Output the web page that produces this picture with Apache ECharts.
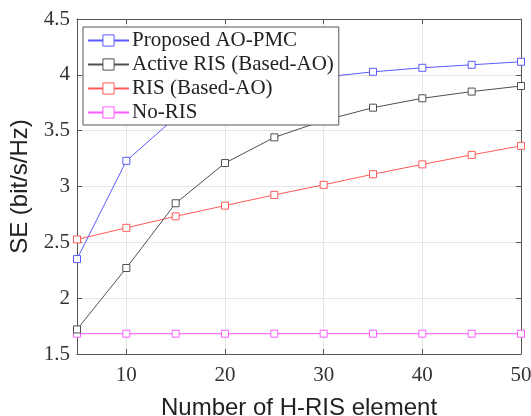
<!DOCTYPE html>
<html><head><meta charset="utf-8">
<script src="https://cdn.jsdelivr.net/npm/echarts@6/dist/echarts.min.js"></script>
<style>html,body{margin:0;padding:0;background:#fff}#c{width:531px;height:416px}</style>
</head><body><div id="c"></div>
<script>
const xValues = [5, 10, 15, 20, 25, 30, 35, 40, 45, 50];
const xTicks = [10, 20, 30, 40, 50];
const seriesNames = ['Proposed AO-PMC', 'Active RIS (Based-AO)', 'RIS (Based-AO)', 'No-RIS'];
const proposed = [2.35, 3.23, 3.62, 3.78, 3.90, 3.98, 4.027, 4.063, 4.09, 4.117];
const activeRIS = [1.72, 2.27, 2.85, 3.21, 3.44, 3.59, 3.706, 3.79, 3.85, 3.90];
const ris = [2.526, 2.63, 2.733, 2.829, 2.925, 3.015, 3.11, 3.198, 3.283, 3.364];
const noRIS = [1.682, 1.682, 1.682, 1.682, 1.682, 1.682, 1.682, 1.682, 1.682, 1.682];
const colors = ['#5a5aff', '#505050', '#ff5a5a', '#ff5aff'];
const allData = [proposed, activeRIS, ris, noRIS];

const chart = echarts.init(document.getElementById('c'), null, {renderer: 'canvas'});
const serif = 'Liberation Serif';
const mk = (i) => ({
  name: seriesNames[i], type: 'line',
  data: xValues.map((x, k) => [x, allData[i][k]]),
  symbol: 'rect', symbolSize: 7, showSymbol: true,
  itemStyle: {color: '#fff', borderColor: colors[i], borderWidth: 1},
  lineStyle: {color: colors[i], width: 1},
  emphasis: {disabled: true}, animation: false, z: 3 + (3 - i)
});
chart.setOption({
  animation: false,
  grid: {left: 77, right: 10, top: 19, bottom: 62, containLabel: false, outerBoundsMode: 'none'},
  legend: {
    orient: 'vertical', left: 83, top: 27, width: 255, z: 20,
    padding: [3, 5, 2, 4], itemGap: 3, itemWidth: 41, itemHeight: 14,
    backgroundColor: '#fff', borderColor: '#555', borderWidth: 1,
    textStyle: {fontFamily: serif, fontSize: 21, color: '#222', padding: [0, 0, 0, -2]},
    data: seriesNames.map((n, i) => ({name: n, itemStyle: {color: '#fff', borderColor: colors[i], borderWidth: 1}}))
  },
  xAxis: [{
    type: 'value', min: 5, max: 50,
    name: 'Number of H-RIS element', nameLocation: 'middle', nameGap: 42,
    nameTextStyle: {fontFamily: 'Liberation Sans', fontSize: 24, color: '#222'},
    axisLine: {show: true, lineStyle: {color: '#555'}},
    axisTick: {show: true, inside: true, length: 5, customValues: xTicks, lineStyle: {color: '#555'}},
    axisLabel: {customValues: xTicks, fontFamily: serif, fontSize: 21, color: '#333', margin: 11},
    splitLine: {show: true, lineStyle: {color: '#e6e6e6'}}
  }, {
    type: 'value', min: 5, max: 50, position: 'top',
    axisLine: {show: true, lineStyle: {color: '#555'}},
    axisTick: {show: true, inside: true, length: 5, customValues: xTicks, lineStyle: {color: '#555'}},
    axisLabel: {show: false}, splitLine: {show: false}
  }],
  yAxis: [{
    type: 'value', min: 1.5, max: 4.5, interval: 0.5,
    name: 'SE (bit/s/Hz)', nameLocation: 'middle', nameGap: 44,
    nameTextStyle: {fontFamily: 'Liberation Sans', fontSize: 24, color: '#222'},
    axisLine: {show: true, lineStyle: {color: '#555'}},
    axisTick: {show: true, inside: true, length: 5, lineStyle: {color: '#555'}},
    axisLabel: {fontFamily: serif, fontSize: 21, color: '#333', margin: 7},
    splitLine: {show: true, lineStyle: {color: '#e6e6e6'}}
  }, {
    type: 'value', min: 1.5, max: 4.5, interval: 0.5, position: 'right',
    axisLine: {show: true, lineStyle: {color: '#555'}},
    axisTick: {show: true, inside: true, length: 5, lineStyle: {color: '#555'}},
    axisLabel: {show: false}, splitLine: {show: false}
  }],
  series: [mk(0), mk(1), mk(2), mk(3)]
});
</script></body></html>
